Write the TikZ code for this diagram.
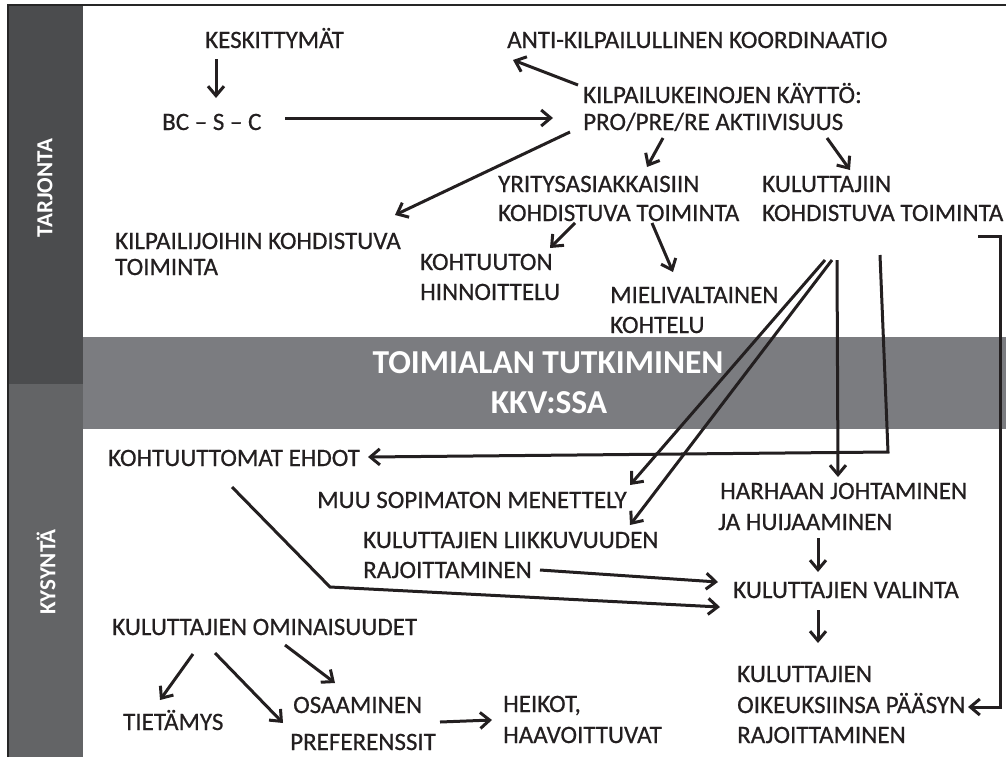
\documentclass[tikz,border=0pt]{standalone}
\usepackage{fontspec}
\setmainfont{Carlito}
\newfontfamily\lblfont{Carlito}[FakeBold=0.6]
\usetikzlibrary{arrows.meta}
\definecolor{sidedark}{HTML}{4B4C4E}
\definecolor{sidelight}{HTML}{636466}
\definecolor{bandgray}{HTML}{7B7C80}
\definecolor{txt}{HTML}{231F20}
\tikzset{
  lbl/.style={anchor=base west, inner sep=0pt, text=txt, font=\lblfont\fontsize{25}{30}\selectfont},
  bandtxt/.style={anchor=base, inner sep=0pt, text=white, font=\fontsize{33.5}{40}\selectfont\bfseries},
  sidetxt/.style={inner sep=0pt, text=white, rotate=90, font=\fontsize{23}{28}\selectfont\bfseries},
  conn/.style={line width=3pt, draw=txt, line join=miter, -{Straight Barb[length=9.5pt,width=16pt,line width=3pt]}},
}
\begin{document}
\begin{tikzpicture}[x=1pt,y=-1pt]
\useasboundingbox (0,0) rectangle (1006,756);
% background panels
\fill[sidedark] (8,5) rectangle (83,384);
\fill[sidelight] (8,384) rectangle (83,760);
\fill[bandgray] (83,337) rectangle (1010,429);
\draw[line width=2.2pt, draw=black!85] (8,762) -- (8,5) -- (1012,5);
% side labels
\node[sidetxt] (tarj) at (45,188) {TARJONTA};
\node[sidetxt] (kysy) at (46,572) {KYSYNTÄ};
% band labels
\node[bandtxt] (band1) at (548,373) {TOIMIALAN TUTKIMINEN};
\node[bandtxt] (band2) at (549,413) {KKV:SSA};
% text nodes
\node[lbl] (kesk) at (205,48) {KESKITTYMÄT};
\node[lbl] (bcsc) at (162,130) {BC – S – C};
\node[lbl] (anti) at (507,48) {ANTI-KILPAILULLINEN KOORDINAATIO};
\node[lbl] (kk1) at (583,103) {KILPAILUKEINOJEN KÄYTTÖ:};
\node[lbl] (kk2) at (583,130) {PRO/PRE/RE AKTIIVISUUS};
\node[lbl] (yr1) at (498,192) {YRITYSASIAKKAISIIN};
\node[lbl] (yr2) at (498,221) {KOHDISTUVA TOIMINTA};
\node[lbl] (ku1) at (762,192) {KULUTTAJIIN};
\node[lbl] (ku2) at (762,221) {KOHDISTUVA TOIMINTA};
\node[lbl] (kp1) at (115,249) {KILPAILIJOIHIN KOHDISTUVA};
\node[lbl] (kp2) at (115,275) {TOIMINTA};
\node[lbl] (kh1) at (420,270) {KOHTUUTON};
\node[lbl] (kh2) at (420,300) {HINNOITTELU};
\node[lbl] (mv1) at (610,303) {MIELIVALTAINEN};
\node[lbl] (mv2) at (610,333) {KOHTELU};
\node[lbl] (ke) at (108,466) {KOHTUUTTOMAT EHDOT};
\node[lbl] (muu) at (317,508) {MUU SOPIMATON MENETTELY};
\node[lbl] (ha1) at (720,499) {HARHAAN JOHTAMINEN};
\node[lbl] (ha2) at (718,530) {JA HUIJAAMINEN};
\node[lbl] (li1) at (363,548) {KULUTTAJIEN LIIKKUVUUDEN};
\node[lbl] (li2) at (363,578) {RAJOITTAMINEN};
\node[lbl] (va) at (733,598) {KULUTTAJIEN VALINTA};
\node[lbl] (oi1) at (737,682) {KULUTTAJIEN};
\node[lbl] (oi2) at (737,713) {OIKEUKSIINSA PÄÄSYN};
\node[lbl] (oi3) at (737,743) {RAJOITTAMINEN};
\node[lbl] (om) at (112,635) {KULUTTAJIEN OMINAISUUDET};
\node[lbl] (ti) at (123,730) {TIETÄMYS};
\node[lbl] (os) at (293,713) {OSAAMINEN};
\node[lbl] (pr) at (290,750) {PREFERENSSIT};
\node[lbl] (he1) at (503,712) {HEIKOT,};
\node[lbl] (he2) at (503,743) {HAAVOITTUVAT};
% connectors
\draw[conn] ([shift={(11,11)}]kesk.base west) -- ([shift={(54,-32)}]bcsc.base west);
\draw[conn] ([shift={(123,-12)}]bcsc.base west) -- ([shift={(-30,-12)}]kk2.base west);
\draw[conn] ([shift={(-5,-18)}]kk1.base west) -- ([shift={(6,12)}]anti.base west);
\draw[conn] ([shift={(-13,2)}]kk2.base west) -- ([shift={(280,-34)}]kp1.base west);
\draw[conn] ([shift={(80,8)}]kk2.base west) -- ([shift={(149,-25)}]yr1.base west);
\draw[conn] ([shift={(244,8)}]kk2.base west) -- ([shift={(88,-22)}]ku1.base west);
\draw[conn] ([shift={(77,2)}]yr2.base west) -- ([shift={(130,-22)}]kh1.base west);
\draw[conn] ([shift={(154,2)}]yr2.base west) -- ([shift={(63,-31)}]mv1.base west);
\draw[conn] ([shift={(118,34)}]ku2.base west) -- ([shift={(126,231)}]ku2.base west) -- ([shift={(260,-9)}]ke.base west);
\draw[conn] ([shift={(63,39)}]ku2.base west) -- ([shift={(313,-23)}]muu.base west);
\draw[conn] ([shift={(70,39)}]ku2.base west) -- ([shift={(267,-23)}]li1.base west);
\draw[conn] ([shift={(75,39)}]ku2.base west) -- ([shift={(118,-22)}]ha1.base west);
\draw[conn] ([shift={(216,15)}]ku2.base west) -- ([shift={(238,15)}]ku2.base west) -- ([shift={(263,-6)}]oi2.base west) -- ([shift={(231,-6)}]oi2.base west);
\draw[conn] ([shift={(124,21)}]ke.base west) -- ([shift={(222,121)}]ke.base west) -- ([shift={(-13,9)}]va.base west);
\draw[conn] ([shift={(177,-8)}]li2.base west) -- ([shift={(-15,-16)}]va.base west);
\draw[conn] ([shift={(100,8)}]ha2.base west) -- ([shift={(85,-26)}]va.base west);
\draw[conn] ([shift={(85,12)}]va.base west) -- ([shift={(81,-39)}]oi1.base west);
\draw[conn] ([shift={(81,19)}]om.base west) -- ([shift={(37,-30)}]ti.base west);
\draw[conn] ([shift={(103,18)}]om.base west) -- ([shift={(-7,-27)}]pr.base west);
\draw[conn] ([shift={(173,10)}]om.base west) -- ([shift={(42,-30)}]os.base west);
\draw[conn] ([shift={(150,-28)}]pr.base west) -- ([shift={(-11,8)}]he1.base west);
\end{tikzpicture}
\end{document}
